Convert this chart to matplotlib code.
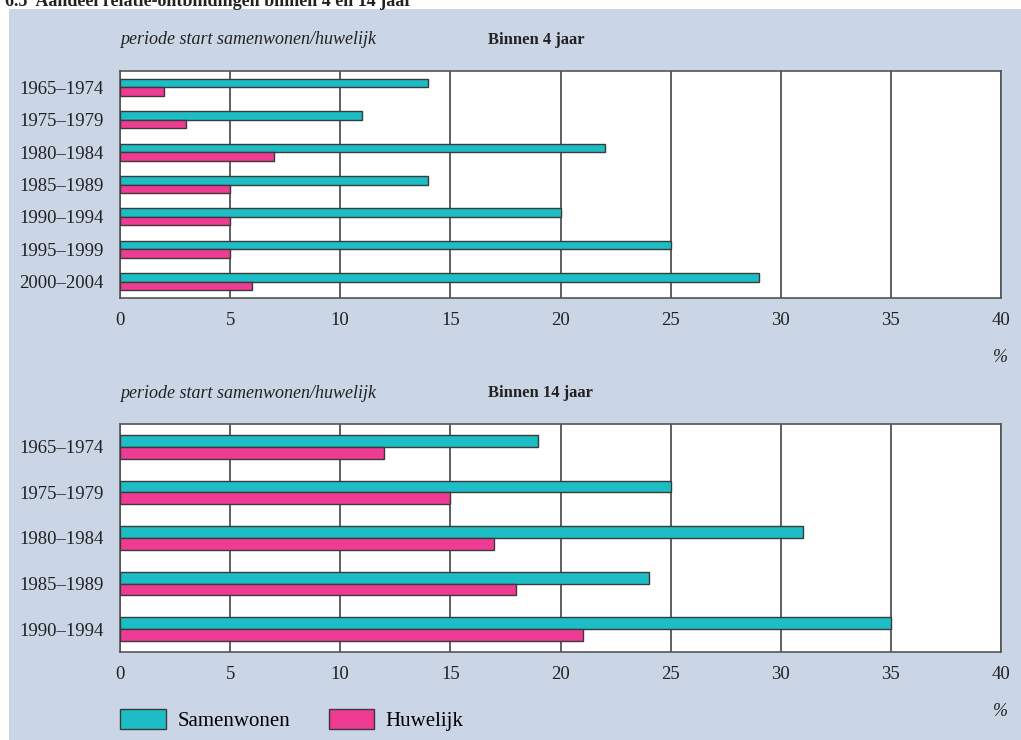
import matplotlib.pyplot as plt
from matplotlib.patches import Rectangle, Patch

plt.rcParams['font.family'] = ['Liberation Serif', 'DejaVu Serif']

# top panel: binnen 4 jaar
periods_4 = ['1965–1974', '1975–1979', '1980–1984', '1985–1989',
             '1990–1994', '1995–1999', '2000–2004']
samen_4 = [14, 11, 22, 14, 20, 25, 29]
huwelijk_4 = [2, 3, 7, 5, 5, 5, 6]

# bottom panel: binnen 14 jaar
periods_14 = ['1965–1974', '1975–1979', '1980–1984', '1985–1989', '1990–1994']
samen_14 = [19, 25, 31, 24, 35]
huwelijk_14 = [12, 15, 17, 18, 21]

xticks = [0, 5, 10, 15, 20, 25, 30, 35, 40]

CYAN = '#1dbdc6'
PINK = '#ee3b93'
PANEL = '#cad5e5'
EDGE = '#3a3a3a'

W, H = 1021, 740
fig = plt.figure(figsize=(W / 100, H / 100), dpi=100)
fig.patch.set_facecolor('white')
fig.patches.append(Rectangle((9 / W, 0), 1, 1 - 9 / H, transform=fig.transFigure,
                             facecolor=PANEL, edgecolor='none', zorder=-10))

# title sits partly above the top edge, as in the source page
fig.text(5 / W, 1 - 6 / H, '6.5  Aandeel relatie-ontbindingen binnen 4 en 14 jaar',
         fontsize=13, fontweight='bold', va='baseline', ha='left', color='#222')


def panel(top, bottom, cats, s, h, title):
    ax = fig.add_axes([120 / W, 1 - bottom / H, 881 / W, (bottom - top) / H])
    n = len(cats)
    y = list(range(n))
    bh = 0.26
    ax.barh([v - bh / 2 for v in y], s, height=bh, color=CYAN, edgecolor=EDGE, lw=1, zorder=3)
    ax.barh([v + bh / 2 for v in y], h, height=bh, color=PINK, edgecolor=EDGE, lw=1, zorder=3)
    ax.set_ylim(n - 0.5, -0.5)
    ax.set_xlim(0, 40)
    ax.set_yticks(y)
    ax.set_yticklabels(cats)
    ax.set_xticks(xticks)
    ax.tick_params(length=0, labelsize=13.5, colors='#222')
    ax.tick_params(axis='y', pad=12)
    ax.tick_params(axis='x', pad=10)
    ax.grid(axis='x', color='#333333', lw=1.1)
    ax.set_axisbelow(True)
    for sp in ax.spines.values():
        sp.set_color('#555555')
        sp.set_linewidth(1.2)
    ax.set_facecolor('white')
    fig.text(120 / W, 1 - (top - 31) / H, 'periode start samenwonen/huwelijk',
             fontsize=13, style='italic', va='center', ha='left', color='#222')
    fig.text(488 / W, 1 - (top - 31) / H, title,
             fontsize=12, fontweight='bold', va='center', ha='left', color='#222')
    fig.text(1008 / W, 1 - (bottom + 59) / H, '%',
             fontsize=13, style='italic', va='center', ha='right', color='#222')
    return ax


panel(71, 298, periods_4, samen_4, huwelijk_4, 'Binnen 4 jaar')
panel(424, 652, periods_14, samen_14, huwelijk_14, 'Binnen 14 jaar')

handles = [Patch(facecolor=CYAN, edgecolor=EDGE, lw=1, label='Samenwonen'),
           Patch(facecolor=PINK, edgecolor=EDGE, lw=1, label='Huwelijk')]
fig.legend(handles=handles, loc='lower left', bbox_to_anchor=(120 / W, 1 - 731 / H),
           ncol=2, frameon=False, fontsize=15, handlelength=2.2, handleheight=1.15,
           handletextpad=0.55, columnspacing=1.85, borderpad=0, borderaxespad=0)

fig.savefig('out.png', dpi=100)
